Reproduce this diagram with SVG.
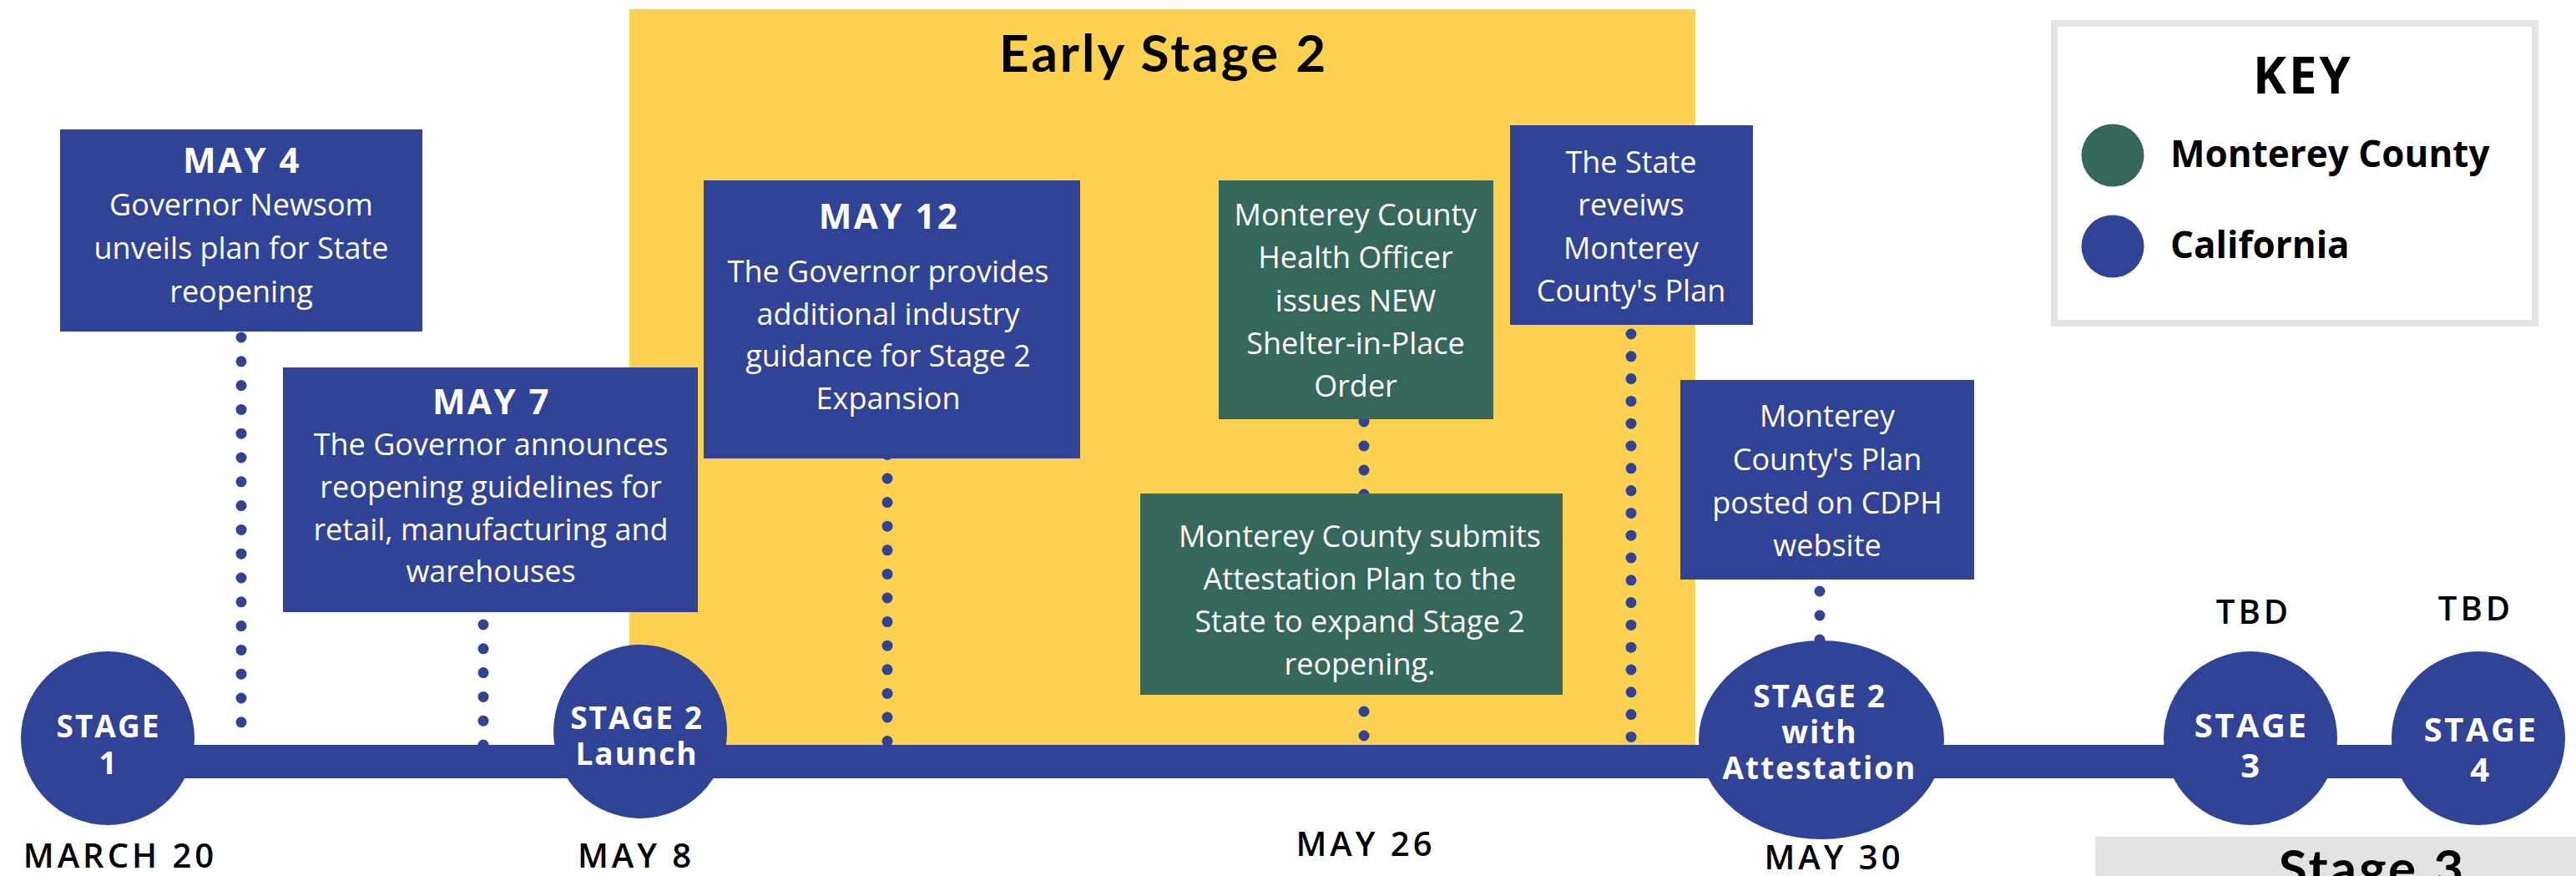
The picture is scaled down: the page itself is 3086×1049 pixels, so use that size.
<svg xmlns="http://www.w3.org/2000/svg" width="3086" height="1049" viewBox="0 0 3086 1049">
<style>
.blue{fill:#314396}
.green{fill:#35675b}
.body{font-family:"Open Sans","Liberation Sans",sans-serif;font-size:36px;fill:#fff;text-anchor:middle}
.hdr{font-family:"Open Sans","Liberation Sans",sans-serif;font-size:42px;font-weight:700;fill:#fff;text-anchor:middle;letter-spacing:2.5px}
.stg{font-family:"Open Sans","Liberation Sans",sans-serif;font-size:37px;font-weight:700;fill:#fff;text-anchor:middle;letter-spacing:2px}
.stg4{font-family:"Open Sans","Liberation Sans",sans-serif;font-size:40px;font-weight:700;fill:#fff;text-anchor:middle;letter-spacing:2.5px}
.date{font-family:"Open Sans","Liberation Sans",sans-serif;font-size:40px;font-weight:600;fill:#000;text-anchor:middle;letter-spacing:4px}
.title{font-family:Lato,"Liberation Sans",sans-serif;font-size:62px;font-weight:700;fill:#000;text-anchor:middle;letter-spacing:3px}
.key{font-family:"Open Sans","Liberation Sans",sans-serif;font-size:44px;font-weight:700;fill:#000}
.keyt{font-family:"Open Sans","Liberation Sans",sans-serif;font-size:60px;font-weight:700;fill:#000;text-anchor:middle;letter-spacing:3px}
.dots{stroke:#314396;stroke-width:13;stroke-linecap:round;fill:none}
</style>
<rect x="0" y="0" width="3086" height="1049" fill="#fff"/>
<g id="early-stage-2">
<rect x="754" y="11" width="1277" height="901" fill="#fdd150"/>
<text class="title" x="1394" y="86">Early Stage 2</text>
</g>
<g id="stage-3-band">
<rect x="2510" y="1002" width="576" height="47" fill="#e4e3e1"/>
<text class="title" x="2842" y="1062">Stage 3</text>
</g>
<g id="connectors">
<line class="dots" x1="289" y1="404" x2="289" y2="892" stroke-dasharray="0 28.8"/>
<line class="dots" x1="579" y1="748" x2="579" y2="892" stroke-dasharray="0 28.8"/>
<line class="dots" x1="1063" y1="544.4" x2="1063" y2="892" stroke-dasharray="0 28.6"/>
<line class="dots" x1="1634" y1="505" x2="1634" y2="593" stroke-dasharray="0 29"/>
<line class="dots" x1="1634" y1="852" x2="1634" y2="892" stroke-dasharray="0 29"/>
<line class="dots" x1="1954" y1="400" x2="1954" y2="892" stroke-dasharray="0 26.8"/>
<line class="dots" x1="2180" y1="708" x2="2180" y2="770" stroke-dasharray="0 29"/>
<rect x="129" y="892" width="2840" height="40" class="blue"/>
</g>
<g id="may4">
<rect x="72" y="155" width="434" height="242" class="blue"/>
<text class="hdr" x="290" y="207">MAY 4</text>
<text class="body" x="289" y="258">Governor Newsom</text>
<text class="body" x="289" y="310">unveils plan for State</text>
<text class="body" x="289" y="362">reopening</text>
</g>
<g id="may7">
<rect x="339" y="440" width="497" height="293" class="blue"/>
<text class="hdr" x="589" y="496">MAY 7</text>
<text class="body" x="588" y="545">The Governor announces</text>
<text class="body" x="588" y="596">reopening guidelines for</text>
<text class="body" x="588" y="647">retail, manufacturing and</text>
<text class="body" x="588" y="697">warehouses</text>
</g>
<g id="may12">
<rect x="843" y="216" width="451" height="333" class="blue"/>
<text class="hdr" x="1065" y="274">MAY 12</text>
<text class="body" x="1064" y="338">The Governor provides</text>
<text class="body" x="1064" y="389">additional industry</text>
<text class="body" x="1064" y="439">guidance for Stage 2</text>
<text class="body" x="1064" y="490">Expansion</text>
</g>
<g id="health-officer">
<rect x="1460" y="216" width="329" height="286" class="green"/>
<text class="body" x="1624" y="270">Monterey County</text>
<text class="body" x="1624" y="321">Health Officer</text>
<text class="body" x="1624" y="373">issues NEW</text>
<text class="body" x="1624" y="424">Shelter-in-Place</text>
<text class="body" x="1624" y="475">Order</text>
</g>
<g id="attestation-submit">
<rect x="1366" y="591" width="506" height="241" class="green"/>
<text class="body" x="1629" y="655">Monterey County submits</text>
<text class="body" x="1629" y="706">Attestation Plan to the</text>
<text class="body" x="1629" y="757">State to expand Stage 2</text>
<text class="body" x="1629" y="808">reopening.</text>
</g>
<g id="state-reviews">
<rect x="1809" y="150" width="291" height="239" class="blue"/>
<text class="body" x="1954" y="207">The State</text>
<text class="body" x="1954" y="258">reveiws</text>
<text class="body" x="1954" y="310">Monterey</text>
<text class="body" x="1954" y="361">County's Plan</text>
</g>
<g id="cdph">
<rect x="2013" y="455" width="352" height="239" class="blue"/>
<text class="body" x="2189" y="511">Monterey</text>
<text class="body" x="2189" y="563">County's Plan</text>
<text class="body" x="2189" y="615">posted on CDPH</text>
<text class="body" x="2189" y="666">website</text>
</g>
<g id="stage1">
<circle cx="129" cy="884" r="104" class="blue"/>
<text class="stg" x="130" y="883">STAGE</text>
<text class="stg" x="130" y="927">1</text>
<text class="date" x="144" y="1039">MARCH 20</text>
</g>
<g id="stage2-launch">
<circle cx="767" cy="876" r="104" class="blue"/>
<text class="stg" x="763" y="873">STAGE 2</text>
<text class="stg" x="763" y="916">Launch</text>
<text class="date" x="762" y="1039">MAY 8</text>
</g>
<g id="may26">
<text class="date" x="1636" y="1025">MAY 26</text>
</g>
<g id="stage2-attestation">
<ellipse cx="2182" cy="886" rx="147" ry="119" class="blue"/>
<text class="stg" x="2180" y="847">STAGE 2</text>
<text class="stg" x="2180" y="890">with</text>
<text class="stg" x="2180" y="933">Attestation</text>
<text class="date" x="2197" y="1041">MAY 30</text>
</g>
<g id="stage3">
<circle cx="2696" cy="884" r="104" class="blue"/>
<text class="stg4" x="2697" y="883">STAGE</text>
<text class="stg4" x="2697" y="931">3</text>
<text class="date" x="2700" y="747">TBD</text>
</g>
<g id="stage4">
<circle cx="2969" cy="884" r="104" class="blue"/>
<text class="stg4" x="2972" y="888">STAGE</text>
<text class="stg4" x="2972" y="936">4</text>
<text class="date" x="2966" y="743">TBD</text>
</g>
<g id="key">
<rect x="2461" y="28" width="576" height="359" fill="#fff" stroke="#e5e4e2" stroke-width="8"/>
<text class="keyt" x="2759" y="112">KEY</text>
<circle cx="2531" cy="186" r="37.5" class="green"/>
<text class="key" x="2600" y="200">Monterey County</text>
<circle cx="2531" cy="295" r="37.5" class="blue"/>
<text class="key" x="2600" y="309">California</text>
</g>
</svg>
